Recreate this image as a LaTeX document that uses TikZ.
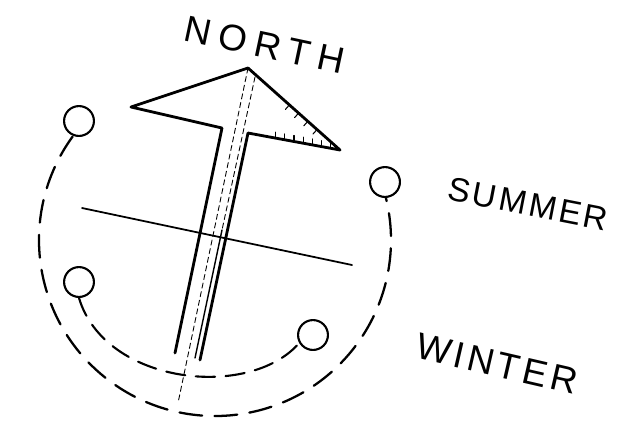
\documentclass[tikz,border=0pt]{standalone}
\usepackage{fontspec}
\newfontfamily\hand{Liberation Sans}
\usetikzlibrary{calc}

\begin{document}
\begin{tikzpicture}[
    x=0.02cm, y=-0.02cm,
    line cap=round, line join=round,
    ring/.style={circle, draw, line width=1.2pt, minimum size=17pt, inner sep=0pt},
    outline/.style={line width=1.6pt},
    guide/.style={line width=0.5pt, dash pattern=on 3pt off 2pt},
    hatch/.style={line width=0.6pt},
    orbit/.style={line width=1.3pt, dash pattern=on 13pt off 7pt},
    word/.style={font=\hand\fontsize{21}{24}\selectfont, inner sep=0pt}
]
\useasboundingbox (0,0) rectangle (617,427);

% --- Arrow points ---
\coordinate (tip) at (248,68);
\coordinate (lb) at (131,107);
\coordinate (li) at (222,128);
\coordinate (rb) at (340,150);
\coordinate (ri) at (248,133);
\coordinate (lfoot) at (175,353);
\coordinate (rfoot) at (200,360);
\coordinate (hub) at (215,240);

% --- Sun positions ---
\node[ring] (topleft) at (79,121) {};
\node[ring] (summer) at (385,182) {};
\node[ring] (lowleft) at (79,282) {};
\node[ring] (winter) at (313,335) {};

% Summer path
\draw[orbit] (hub) ++(216:176) arc[start angle=216, end angle=-14, radius=176];
% Winter path
\draw[line width=1.2pt, dash pattern=on 11pt off 6pt]
    (lowleft.south) .. controls (105,385) and (250,400) .. (winter.210);

% East-west line
\coordinate (west) at (82,208);
\coordinate (east) at (352,265);
\draw[line width=1pt] (west) -- (east);

% --- North arrow ---
\draw[outline] (lfoot) -- (li) -- (lb) -- (tip) -- (rb) -- (ri) -- (rfoot);
\draw[guide] (tip) -- (178,403);
\draw[guide] (255,77) -- (222,230);
\draw[line width=0.8pt] (222,230) -- (195,358);
% shading of the right barb
\foreach \t in {0.3,0.4,...,0.9}
    \draw[hatch] ($(ri)!\t!(rb)$) -- ++(0,-6);
\foreach \t in {0.45,0.55,...,0.85}
    \draw[hatch] ($(tip)!\t!(rb)$) -- ++(-4,4.5);

% --- Labels ---
\node[word, rotate=-12] (northlbl) at (265,45) {\addfontfeature{LetterSpace=22}NORTH};
\node[word, font=\hand\fontsize{19}{22}\selectfont, rotate=-11] (summerlbl) at (528,204) {\addfontfeature{LetterSpace=8}SUMMER};
\node[word, rotate=-13] (winterlbl) at (497,364) {\addfontfeature{LetterSpace=10}WINTER};

\end{tikzpicture}
\end{document}
